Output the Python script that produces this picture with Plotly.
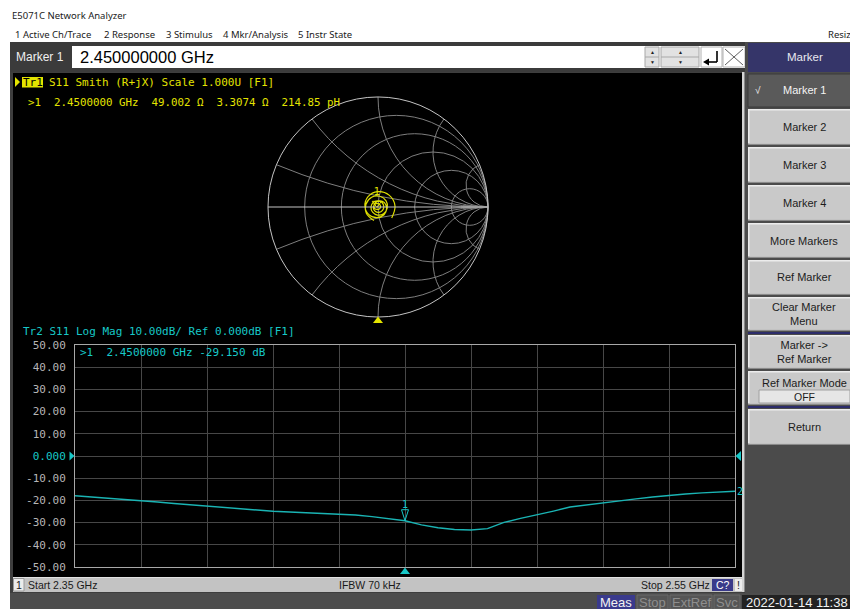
import numpy as np
import plotly.graph_objects as go

W, H = 850, 609

freq_ghz = [2.350, 2.355, 2.360, 2.365, 2.370, 2.375, 2.380, 2.385, 2.390, 2.395,
            2.400, 2.405, 2.410, 2.415, 2.420, 2.425, 2.430, 2.435, 2.440, 2.445,
            2.450, 2.455, 2.460, 2.465, 2.470, 2.475, 2.480, 2.485, 2.490, 2.495,
            2.500, 2.505, 2.510, 2.515, 2.520, 2.525, 2.530, 2.535, 2.540, 2.545, 2.550]
s11_db = [-17.9, -18.4, -19.0, -19.5, -20.1, -20.7, -21.4, -22.0, -22.7, -23.3,
          -23.9, -24.4, -24.9, -25.2, -25.5, -25.8, -26.1, -26.6, -27.3, -28.2,
          -29.15, -31.0, -32.3, -33.1, -33.3, -32.7, -29.9, -28.1, -26.6, -24.8,
          -23.0, -22.0, -21.0, -20.2, -19.3, -18.5, -17.7, -17.1, -16.6, -16.2, -15.9]
s11_phase_deg = [973, 929, 887, 843, 801, 757, 714, 670, 626, 584,
                 540, 496, 453, 411, 367, 323, 281, 237, 193, 150,
                 107, 63, 21, -24, -66, -109, -153, -197, -240, -283,
                 -326, -370, -412, -456, -500, -543, -586, -629, -673, -716, -759]
marker_freq = 2.45
marker_label = "1"
smith_r_grid = [0.2, 0.5, 1, 2, 5]
smith_x_grid = [-5, -2, -1, -0.5, -0.2, 0.2, 0.5, 1, 2, 5]
y_tick_vals = [50, 40, 30, 20, 10, 0, -10, -20, -30, -40, -50]
y_tick_text = ["50.00", "40.00", "30.00", "20.00", "10.00", "0.000",
               "-10.00", "-20.00", "-30.00", "-40.00", "-50.00"]
x_start, x_stop, x_div = 2.35, 2.55, 0.02
y_min, y_max = -50, 50

menu_items = [("1 Active Ch/Trace", 15), ("2 Response", 104), ("3 Stimulus", 166),
              ("4 Mkr/Analysis", 223), ("5 Instr State", 298)]
softkeys = [("Marker 1", 74, 107, True), ("Marker 2", 109, 145, False),
            ("Marker 3", 147, 183, False), ("Marker 4", 185, 221, False),
            ("More Markers", 223, 258, False), ("Ref Marker", 260, 295, False),
            ("Clear Marker<br>Menu", 297, 331, False),
            ("Marker -><br>Ref Marker", 335, 369, False),
            ("Ref Marker Mode", 371, 405, False), ("Return", 409, 445, False)]

tr1_title = "S11 Smith (R+jX) Scale 1.000U [F1]"
tr1_marker = ">1\u00a0\u00a02.4500000 GHz\u00a0\u00a049.002 \u03a9\u00a0\u00a03.3074 \u03a9\u00a0\u00a0214.85 pH"
tr2_title = "Tr2 S11 Log Mag 10.00dB/ Ref 0.000dB [F1]"
tr2_marker = ">1\u00a0\u00a02.4500000 GHz -29.150 dB"

# ---------------- style ----------------
MONO = "DejaVu Sans Mono"
SANS = "Liberation Sans"
UI = "Noto Sans"
YEL = "#e4e400"
YEL_TR = "#dede00"
CYAN = "#17c8c8"
CYAN_TR = "#1ab4b4"

shapes, ann = [], []


def px(x):
    return x / W


def py(y):
    return 1 - y / H


def rect(x0, y0, x1, y1, fill, line=None, layer="below", lw=1):
    shapes.append(dict(type="rect", xref="paper", yref="paper",
                       x0=px(x0), x1=px(x1), y0=py(y1), y1=py(y0),
                       fillcolor=fill, layer=layer,
                       line=dict(width=lw if line else 0, color=line or fill)))


def seg(x0, y0, x1, y1, color, w=1, layer="above"):
    shapes.append(dict(type="line", xref="paper", yref="paper",
                       x0=px(x0), x1=px(x1), y0=py(y0), y1=py(y1), layer=layer,
                       line=dict(color=color, width=w)))


def txt(x, y, s, size=11, color="#000", family=MONO, xa="left", ya="middle"):
    ann.append(dict(x=px(x), y=py(y), xref="paper", yref="paper", text=s,
                    showarrow=False, xanchor=xa, yanchor=ya, borderpad=0,
                    borderwidth=0, font=dict(family=family, size=size, color=color)))


# ---------------- window chrome ----------------
txt(12, 16, "E5071C Network Analyzer", 9.5, "#1a1a1a", UI)
for label, x in menu_items:
    txt(x, 34, label, 9.5, "#1a1a1a", UI)
txt(828, 34, "Resiz", 9.5, "#1a1a1a", UI)

# marker entry bar
rect(10, 42, 746, 72, "#3b3b3b")
txt(16, 57, "Marker 1", 12, "#f0f0f0", SANS)
rect(72, 46, 745, 68, "#ffffff")
txt(80, 57.5, "2.450000000 GHz", 16.5, "#000000", SANS)
rect(645, 47, 659, 67, "#e2e2e2", "#a8a8a8")
seg(645, 57, 659, 57, "#a8a8a8")
rect(661, 47, 699, 67, "#e2e2e2", "#a8a8a8")
seg(661, 57, 699, 57, "#a8a8a8")
for cx in (652, 680):
    txt(cx, 52, "\u25b2", 5, "#202020", SANS, xa="center")
    txt(cx, 62, "\u25bc", 5, "#202020", SANS, xa="center")
rect(701, 47, 722, 67, "#ffffff", "#b0b0b0")
seg(717, 51, 717, 62, "#000", 1.6)
seg(717, 62, 707, 62, "#000", 1.6)
shapes.append(dict(type="path", xref="paper", yref="paper", layer="above",
                   path=f"M{px(703)},{py(62)} L{px(709)},{py(58.5)} L{px(709)},{py(65.5)} Z",
                   fillcolor="#000", line=dict(width=0)))
rect(723, 47, 745, 67, "#ffffff", "#b0b0b0")
seg(725, 49, 743, 65, "#606060", 1)
seg(725, 65, 743, 49, "#606060", 1)

# right soft-key panel
rect(745, 42, 850, 609, "#4b4b4b")
rect(748, 43, 850, 72, "#353569")
txt(805, 57, "Marker", 11.5, "#e8e8f0", SANS, xa="center")
for label, y0, y1, sel in softkeys:
    if sel:
        rect(748, y0, 851, y1, "#5a5a5a", "#3a3a3a")
        txt(755, (y0 + y1) / 2, "\u221a", 10, "#f0f0f0", SANS)
        txt(804, (y0 + y1) / 2, label, 11, "#f4f4f4", SANS, xa="center")
    else:
        rect(748, y0, 851, y1, "#8a8a8a")
        rect(748, y0, 850, y1 - 1.5, "#ececec")
        rect(749.5, y0 + 1.5, 851, y1 - 1.5, "#c9c9c9")
        if label == "Ref Marker Mode":
            txt(804, 382.5, label, 11, "#1c1c1c", SANS, xa="center")
            rect(759, 390, 850, 403, "#e6e6e6", "#a0a0a0")
            txt(804, 397, "OFF", 10.5, "#1c1c1c", SANS, xa="center")
        else:
            txt(804, (y0 + y1) / 2, label, 11, "#1c1c1c", SANS, xa="center")
rect(748, 332, 850, 334, "#2c2c6a")
rect(748, 406, 850, 408, "#2c2c6a")

# display frame
rect(10, 72, 745, 594, "#3e3e3e")
rect(13, 73, 742, 577, "#000000")
rect(742, 72, 744.5, 592, "#d4d4d4")

# status bar
rect(13, 577, 742, 592, "#c3c3c3")
seg(13, 577.5, 742, 577.5, "#e2e2e2")
rect(13.5, 578.5, 24, 591, "#ececec", "#9a9a9a")
txt(18.8, 585, "1", 10.5, "#1a1a1a", SANS, xa="center")
txt(28, 585, f"Start {x_start:.2f} GHz", 10.5, "#1a1a1a", SANS)
txt(339, 585, "IFBW 70 kHz", 10.5, "#1a1a1a", SANS)
txt(641, 585, f"Stop {x_stop:.2f} GHz", 10.5, "#1a1a1a", SANS)
rect(712, 579, 733, 591, "#3a3a8a")
txt(722.5, 585, "C?", 10.5, "#ffffff", SANS, xa="center")
rect(735, 579, 742, 591, "#ececec")
txt(738.5, 585, "!", 10.5, "#1a1a1a", SANS, xa="center")

# bottom indicator bar
rect(10, 593, 850, 609, "#4d4d4d")
rect(597, 595, 635, 609, "#3a3a8c")
txt(616, 602.5, "Meas", 13, "#f2f2f2", SANS, xa="center")
for lab, x0, x1 in (("Stop", 637, 668), ("ExtRef", 670, 712), ("Svc", 714, 740)):
    rect(x0, 595, x1, 609, "#555555", "#6a6a6a")
    txt((x0 + x1) / 2, 602.5, lab, 13, "#8e8e8e", SANS, xa="center")
rect(742, 595, 850, 609, "#222222")
txt(746, 602.5, "2022-01-14 11:38", 13, "#f2f2f2", SANS)

# ---------------- trace 1 : Smith chart ----------------
sm_x0, sm_x1, sm_y0, sm_y1 = 268, 488, 97, 317
shapes.append(dict(type="path", xref="paper", yref="paper", layer="above",
                   path=f"M{px(15)},{py(77)} L{px(20)},{py(82)} L{px(15)},{py(87)} Z",
                   fillcolor=YEL, line=dict(width=0)))
rect(22, 77, 43, 87.5, YEL, layer="above")
txt(32.5, 82.3, "Tr1", 11, "#000000", MONO, xa="center")
txt(49, 82.3, tr1_title, 11, YEL, MONO)
txt(28, 102.5, tr1_marker, 10.8, YEL, MONO)
smc = (sm_x0 + sm_x1) / 2
shapes.append(dict(type="path", xref="paper", yref="paper", layer="above",
                   path=f"M{px(smc)},{py(316.5)} L{px(smc + 5)},{py(323)} L{px(smc - 5)},{py(323)} Z",
                   fillcolor=YEL, line=dict(width=0)))

gam = 10 ** (np.array(s11_db) / 20) * np.exp(1j * np.deg2rad(s11_phase_deg))
zn = (1 + gam) / (1 - gam)
mi = freq_ghz.index(marker_freq)

fig = go.Figure()
fig.add_trace(go.Scattersmith(real=zn.real.tolist(), imag=zn.imag.tolist(), mode="lines",
                              line=dict(color=YEL_TR, width=1.2, shape="spline", smoothing=1),
                              subplot="smith", showlegend=False, hoverinfo="skip"))
fig.add_trace(go.Scattersmith(real=[float(zn.real[mi])], imag=[float(zn.imag[mi])],
                              mode="markers+text", text=[marker_label],
                              textposition="top center",
                              textfont=dict(family=MONO, size=10, color=YEL),
                              marker=dict(symbol="triangle-down-open", size=8, color=YEL,
                                          line=dict(color=YEL, width=1)),
                              subplot="smith", showlegend=False, hoverinfo="skip"))

# ---------------- trace 2 : log magnitude ----------------
ax_x0, ax_x1, ax_y0, ax_y1 = 75, 735, 345, 567
txt(23, 331.5, tr2_title, 11, CYAN, MONO)
txt(80, 352.5, tr2_marker, 11, CYAN, MONO)

fig.add_trace(go.Scatter(x=freq_ghz, y=s11_db, mode="lines",
                         line=dict(color=CYAN_TR, width=1.4),
                         xaxis="x", yaxis="y", showlegend=False, hoverinfo="skip"))

mval = s11_db[mi]
ann.append(dict(x=marker_freq, y=mval, xref="x", yref="y", text=marker_label,
                showarrow=False, yanchor="bottom", yshift=10, borderpad=0,
                font=dict(family=MONO, size=10, color=CYAN)))
shapes.append(dict(type="path", xref="x", yref="y", xsizemode="pixel", ysizemode="pixel",
                   xanchor=marker_freq, yanchor=mval, layer="above",
                   path="M-3.5,11 L3.5,11 L0,0 Z", fillcolor="rgba(0,0,0,0)",
                   line=dict(color=CYAN, width=1)))
# stimulus marker indicator under the axis
shapes.append(dict(type="path", xref="x", yref="paper", xsizemode="pixel",
                   xanchor=marker_freq, layer="above",
                   path=f"M-5,{py(574)} L5,{py(574)} L0,{py(567.5)} Z",
                   fillcolor=CYAN, line=dict(width=0)))
# reference-level indicators at 0 dB
ref_level = 0
shapes.append(dict(type="path", xref="paper", yref="y", ysizemode="pixel",
                   yanchor=ref_level, layer="above",
                   path=f"M{px(69.5)},4.5 L{px(74.5)},0 L{px(69.5)},-4.5 Z",
                   fillcolor=CYAN, line=dict(width=0)))
shapes.append(dict(type="path", xref="paper", yref="y", ysizemode="pixel",
                   yanchor=ref_level, layer="above",
                   path=f"M{px(741)},5 L{px(735.5)},0 L{px(741)},-5 Z",
                   fillcolor=CYAN, line=dict(width=0)))
ann.append(dict(x=freq_ghz[-1], y=s11_db[-1], xref="x", yref="y", text="2",
                showarrow=False, xanchor="left", xshift=1, borderpad=0,
                font=dict(family=MONO, size=10, color=CYAN)))

ytext = [f"<span style='color:{CYAN}'>{t}</span>" if v == 0 else t
         for v, t in zip(y_tick_vals, y_tick_text)]

fig.update_layout(
    width=W, height=H, margin=dict(l=0, r=0, t=0, b=0, pad=0, autoexpand=False),
    paper_bgcolor="#ffffff", plot_bgcolor="rgba(0,0,0,0)",
    showlegend=False, shapes=shapes, annotations=ann,
    xaxis=dict(domain=[px(ax_x0), px(ax_x1)], range=[x_start, x_stop],
               tick0=x_start, dtick=x_div, showticklabels=False, ticks="",
               showgrid=True, gridcolor="#474747", gridwidth=1, zeroline=False,
               showline=True, linecolor="#a8a8a8", linewidth=1, mirror=True,
               anchor="y", fixedrange=True),
    yaxis=dict(domain=[py(ax_y1), py(ax_y0)], range=[y_min, y_max],
               tickvals=y_tick_vals, ticktext=ytext, ticks="",
               tickfont=dict(family=MONO, size=11, color="#b6b6b6"),
               ticklabelstandoff=6,
               showgrid=True, gridcolor="#474747", gridwidth=1, zeroline=False,
               showline=True, linecolor="#a8a8a8", linewidth=1, mirror=True,
               anchor="x", fixedrange=True),
    smith=dict(domain=dict(x=[px(sm_x0), px(sm_x1)], y=[py(sm_y1), py(sm_y0)]),
               bgcolor="rgba(0,0,0,0)",
               realaxis=dict(tickvals=smith_r_grid, showticklabels=False, ticks="",
                             showgrid=True, gridcolor="#7e7e7e", gridwidth=1,
                             showline=True, linecolor="#c4c4c4", linewidth=1),
               imaginaryaxis=dict(tickvals=smith_x_grid, showticklabels=False, ticks="",
                                  showgrid=True, gridcolor="#7e7e7e", gridwidth=1,
                                  showline=True, linecolor="#c4c4c4", linewidth=1)),
)

fig.write_html("out.html", config={"displayModeBar": False},
               post_script="document.body.style.margin='0';")
